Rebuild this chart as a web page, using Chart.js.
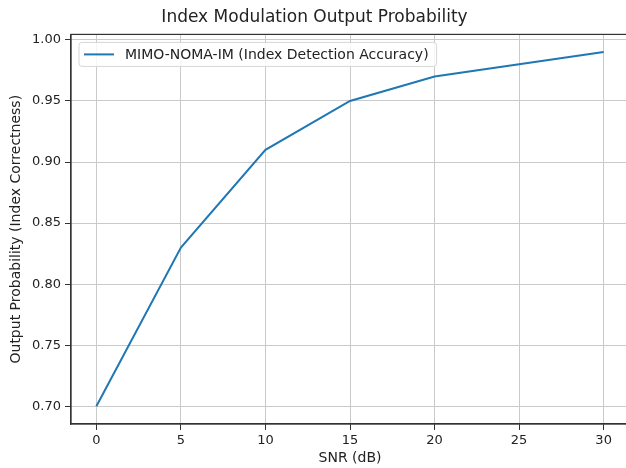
<!DOCTYPE html>
<html>
<head>
<meta charset="utf-8">
<script src="https://cdn.jsdelivr.net/npm/chart.js@4/dist/chart.umd.min.js"></script>
<style>
  html, body { margin: 0; padding: 0; background: #fff; overflow: hidden; }
  #wrap { width: 640px; height: 468px; }
</style>
</head>
<body>
<div id="wrap"><canvas id="lineChart"></canvas></div>
<script>
// data
const snr = [0, 5, 10, 15, 20, 25, 30];
const accuracy = [0.70, 0.83, 0.91, 0.95, 0.97, 0.98, 0.99];
const xTicks = [0, 5, 10, 15, 20, 25, 30];
const yTicks = [0.70, 0.75, 0.80, 0.85, 0.90, 0.95, 1.00];
const seriesLabel = "MIMO-NOMA-IM (Index Detection Accuracy)";

const FONT = "'DejaVu Sans', sans-serif";
const TEXT = "#222";

// top/right spines + matplotlib-style legend inside the axes
const axesFrame = {
  id: "axesFrame",
  afterDraw(chart) {
    const { ctx, chartArea: a } = chart;
    ctx.save();
    ctx.strokeStyle = "#333";
    ctx.lineWidth = 1.2;
    ctx.strokeRect(a.left, a.top, a.right - a.left, a.bottom - a.top);

    // legend box
    const ds = chart.data.datasets[0];
    ctx.font = "14px " + FONT;
    const tw = ctx.measureText(ds.label).width;
    const bx = a.left + 8, by = a.top + 8;
    const bw = 46 + tw + 8, bh = 24;
    ctx.beginPath();
    ctx.roundRect(bx, by, bw, bh, 3);
    ctx.fillStyle = "rgba(255,255,255,0.8)";
    ctx.fill();
    ctx.strokeStyle = "#d6d6d6";
    ctx.lineWidth = 1;
    ctx.stroke();

    ctx.beginPath();
    ctx.moveTo(bx + 5, by + bh / 2);
    ctx.lineTo(bx + 35, by + bh / 2);
    ctx.strokeStyle = ds.borderColor;
    ctx.lineWidth = 2;
    ctx.stroke();

    ctx.fillStyle = TEXT;
    ctx.textBaseline = "middle";
    ctx.textAlign = "left";
    ctx.fillText(ds.label, bx + 46, by + bh / 2 + 1);
    ctx.restore();
  },
};

const ctx = document.getElementById("lineChart").getContext("2d");
const lineChart = new Chart(ctx, {
  type: "line",
  data: {
    datasets: [
      {
        label: seriesLabel,
        data: snr.map((s, i) => ({ x: s, y: accuracy[i] })),
        borderColor: "#1f77b4",
        backgroundColor: "#1f77b4",
        borderWidth: 2,
        pointRadius: 0,
        tension: 0,
      },
    ],
  },
  options: {
    responsive: true,
    maintainAspectRatio: false,
    animation: false,
    layout: { padding: { left: 0, right: 11, top: 0, bottom: 0 } },
    plugins: {
      legend: { display: false },
      tooltip: { enabled: false },
      title: {
        display: true,
        text: "Index Modulation Output Probability",
        color: TEXT,
        font: { family: FONT, size: 17, weight: "normal" },
        padding: { top: 7, bottom: 7 },
      },
    },
    scales: {
      x: {
        type: "linear",
        min: -1.5,
        max: 31.5,
        afterBuildTicks: (scale) => {
          scale.ticks = xTicks.map((v) => ({ value: v }));
        },
        afterFit: (scale) => {
          scale.height = 44;
        },
        grid: { color: "#cacaca", lineWidth: 1, tickLength: 6, tickColor: "#333" },
        border: { display: true, color: "#333", width: 1.2 },
        ticks: {
          color: TEXT,
          font: { family: FONT, size: 13 },
          padding: 3,
          maxRotation: 0,
          callback: (v) => String(v),
        },
        title: {
          display: true,
          text: "SNR (dB)",
          color: TEXT,
          font: { family: FONT, size: 14 },
          padding: { top: 0, bottom: 1 },
        },
      },
      y: {
        type: "linear",
        min: 0.6855,
        max: 1.0045,
        afterBuildTicks: (scale) => {
          scale.ticks = yTicks.map((v) => ({ value: v }));
        },
        afterFit: (scale) => {
          scale.width = 71;
        },
        grid: { color: "#cacaca", lineWidth: 1, tickLength: 6, tickColor: "#333" },
        border: { display: true, color: "#333", width: 1.2 },
        ticks: {
          color: TEXT,
          font: { family: FONT, size: 13 },
          padding: 4,
          callback: (v) => v.toFixed(2),
        },
        title: {
          display: true,
          text: "Output Probability (Index Correctness)",
          color: TEXT,
          font: { family: FONT, size: 14 },
          padding: { top: 8, bottom: 0 },
        },
      },
    },
  },
  plugins: [axesFrame],
});
</script>
</body>
</html>
